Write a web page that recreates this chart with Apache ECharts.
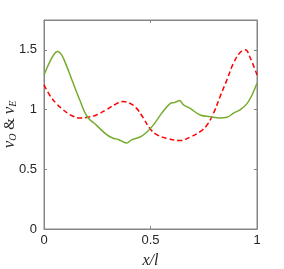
<!DOCTYPE html>
<html><head><meta charset="utf-8">
<script src="https://cdn.jsdelivr.net/npm/echarts@6/dist/echarts.min.js"></script>
<style>html,body{margin:0;padding:0;background:#fff}#c{width:284px;height:269px}</style>
</head><body><div id="c"></div>
<script>
const greenX = [0,0.027,0.050,0.063,0.082,0.105,0.137,0.168,0.203,0.246,0.294,0.325,0.349,0.388,0.411,0.451,0.482,0.513,0.553,0.592,0.615,0.636,0.655,0.686,0.733,0.780,0.827,0.859,0.890,0.922,0.953,0.976,1.0];
const greenY = [1.29,1.40,1.47,1.486,1.46,1.37,1.22,1.08,0.94,0.87,0.79,0.76,0.75,0.72,0.746,0.77,0.81,0.87,0.97,1.05,1.06,1.075,1.04,1.01,0.955,0.94,0.93,0.935,0.97,1.0,1.05,1.12,1.22];
const redX = [0,0.027,0.058,0.089,0.129,0.168,0.203,0.246,0.294,0.341,0.372,0.403,0.435,0.466,0.498,0.529,0.576,0.639,0.686,0.733,0.765,0.796,0.827,0.859,0.890,0.922,0.945,0.969,1.0];
const redY = [1.207,1.12,1.05,1.0,0.95,0.93,0.935,0.955,1.0,1.05,1.067,1.053,1.01,0.93,0.84,0.79,0.76,0.74,0.77,0.815,0.87,0.97,1.11,1.25,1.39,1.48,1.50,1.43,1.29];
const xTicks = [0, 0.5, 1];
const yTicks = [0, 0.5, 1, 1.5];

const chart = echarts.init(document.getElementById('c'));
const axisCol = '#868686';
const lblCol = '#262626';
const fmt = v => (xTicks.includes(v) || yTicks.includes(v)) ? String(v) : '';
chart.setOption({
  animation: false,
  grid: {left: 44, right: 27, top: 20, bottom: 40, outerBoundsMode: 'none', containLabel: false,
         show: true, borderColor: axisCol, borderWidth: 1, backgroundColor: 'transparent'},
  xAxis: [{
    type: 'value', min: 0, max: 1, interval: 0.5,
    name: 'x/l', nameLocation: 'middle', nameGap: 24,
    nameTextStyle: {fontFamily: 'Liberation Serif', fontStyle: 'italic', fontSize: 16, color: lblCol},
    axisLine: {onZero: false, lineStyle: {color: axisCol, width: 1}},
    axisTick: {inside: true, length: 3, lineStyle: {color: axisCol}},
    axisLabel: {color: lblCol, fontFamily: 'Liberation Sans', fontSize: 13, margin: 5, formatter: fmt},
    splitLine: {show: false}
  }, {
    type: 'value', min: 0, max: 1, interval: 0.5, position: 'top',
    axisLine: {show: true, onZero: false, lineStyle: {color: axisCol, width: 1}},
    axisTick: {show: true, inside: true, length: 3, lineStyle: {color: axisCol}},
    axisLabel: {show: false}, splitLine: {show: false}
  }],
  yAxis: [{
    type: 'value', min: 0, max: 1.75, interval: 0.5,
    name: '{i|ν}{s|O}{a| & }{i|ν}{s|E}', nameLocation: 'middle', nameGap: 25, nameMoveOverlap: false,
    nameTextStyle: {
      color: lblCol, fontFamily: 'Liberation Serif', fontSize: 15, lineHeight: 18,
      rich: {
        i: {fontFamily: 'Liberation Serif', fontStyle: 'italic', fontSize: 17, lineHeight: 18, color: lblCol},
        s: {fontFamily: 'Liberation Serif', fontStyle: 'italic', fontSize: 10, lineHeight: 18, color: lblCol, padding: [7, 0, 0, 0]},
        a: {fontFamily: 'Liberation Serif', fontSize: 15, lineHeight: 18, color: lblCol}
      }
    },
    axisLine: {show: true, onZero: false, lineStyle: {color: axisCol, width: 1}},
    axisTick: {show: true, inside: true, length: 3, lineStyle: {color: axisCol}},
    axisLabel: {color: lblCol, fontFamily: 'Liberation Sans', fontSize: 13, margin: 7, formatter: fmt},
    splitLine: {show: false}
  }, {
    type: 'value', min: 0, max: 1.75, interval: 0.5, position: 'right',
    axisLine: {show: true, onZero: false, lineStyle: {color: axisCol, width: 1}},
    axisTick: {show: true, inside: true, length: 3, lineStyle: {color: axisCol}},
    axisLabel: {show: false}, splitLine: {show: false}
  }],
  series: [{
    type: 'line', xAxisIndex: 1, yAxisIndex: 1,
    data: redX.map((x, i) => [x, redY[i]]), smooth: 0.4, showSymbol: false,
    lineStyle: {color: '#ff0000', width: 1.5, type: [5, 3]}
  }, {
    type: 'line', xAxisIndex: 0, yAxisIndex: 0,
    data: greenX.map((x, i) => [x, greenY[i]]), smooth: 0.4, showSymbol: false,
    lineStyle: {color: '#77ac30', width: 1.5}
  }]
});
</script></body></html>
